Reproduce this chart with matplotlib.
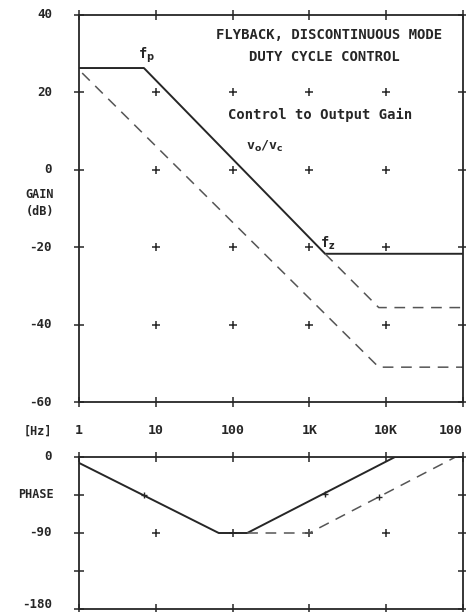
#   Flyback, discontinuous mode - duty cycle control, Bode plot (asymptotes)
import numpy as np
import matplotlib.pyplot as plt

plt.rcParams['font.family'] = ['DejaVu Sans Mono']
plt.rcParams['font.weight'] = 'bold'
ink = '#262626'

# gain asymptotes (Hz, dB)
gain_f = [1, 7, 1600, 100000]
gain_db = [26.3, 26.3, -21.7, -21.7]
# dashed: continuation past fz
gain2_f = [1600, 8000, 100000]
gain2_db = [-21.7, -35.6, -35.6]
# dashed: lower fp
gain3_f = [1.1, 8000, 100000]
gain3_db = [25.0, -51.0, -51.0]

# phase asymptotes (Hz, deg)
phase_f = [1, 66, 155, 13000, 100000]
phase_deg = [-7, -90, -90, 0, 0]
phase2_f = [155, 1000, 80000]
phase2_deg = [-90, -90, 0]
# small marks at the corner frequencies
mark_f = [7, 1600, 8000]
mark_deg = [-45, -44, -47]

dec_f = [1, 10, 100, 1000, 10000, 100000]
dec_lbl = ['1', '10', '100', '1K', '10K', '100']
gain_ticks = [40, 20, 0, -20, -40, -60]
phase_ticks = [0, -45, -90, -135, -180]

fig = plt.figure(figsize=(4.66, 6.12), dpi=100)
W, H = 466.0, 612.0
ax1 = fig.add_axes([79 / W, 1 - 402 / H, 384 / W, 387 / H])
ax2 = fig.add_axes([79 / W, 1 - 609 / H, 384 / W, 152 / H])

for ax in (ax1, ax2):
    ax.set_xscale('log')
    ax.set_xlim(1, 100000)
    ax.minorticks_off()
    for s in ax.spines.values():
        s.set_linewidth(1.3)
        s.set_color(ink)
    ax.tick_params(direction='inout', length=7, width=1.1, color=ink,
                   top=True, right=True, labelbottom=False,
                   labelleft=False)
    ax.set_xticks(dec_f)

# gain panel
ax1.set_ylim(-60, 40)
ax1.set_yticks(gain_ticks)
gx, gy = np.meshgrid(dec_f[1:-1], gain_ticks[1:-1])
ax1.plot(gx.ravel(), gy.ravel(), '+', ms=6, mew=1.1, color=ink)
ax1.plot(gain_f, gain_db, color=ink, lw=1.4)
ax1.plot(gain2_f, gain2_db, color='#555555', lw=1.1, dashes=(7, 5))
ax1.plot(gain3_f, gain3_db, color='#555555', lw=1.1, dashes=(7, 5))
for v in gain_ticks:
    ax1.text(-0.07, (v + 60) / 100, str(v), transform=ax1.transAxes,
             ha='right', va='center', fontsize=9, color=ink)
ax1.text(-0.065, 0.535, 'GAIN', transform=ax1.transAxes, ha='right',
         va='center', fontsize=8.5, color=ink)
ax1.text(-0.065, 0.493, '(dB)', transform=ax1.transAxes, ha='right',
         va='center', fontsize=8.5, color=ink)

ax1.text(0.651, 0.948, 'FLYBACK, DISCONTINUOUS MODE', transform=ax1.transAxes,
         ha='center', va='center', fontsize=10, color=ink)
ax1.text(0.64, 0.891, 'DUTY CYCLE CONTROL', transform=ax1.transAxes,
         ha='center', va='center', fontsize=10, color=ink)
ax1.text(0.628, 0.742, 'Control to Output Gain', transform=ax1.transAxes,
         ha='center', va='center', fontsize=10, color=ink)
ax1.text(0.484, 0.66, r'v$_{\mathbf{o}}$/v$_{\mathbf{c}}$',
         transform=ax1.transAxes, ha='center', va='center',
         fontsize=9.5, color=ink)
ax1.text(5.9, 29.5, r'f$_{\mathbf{p}}$', ha='left', va='center',
         fontsize=10, color=ink)
ax1.text(1380, -19, r'f$_{\mathbf{z}}$', ha='left', va='center',
         fontsize=10, color=ink)

# frequency labels between the panels
for f, lbl in zip(dec_f[:-1], dec_lbl[:-1]):
    ax1.text(f, -67.3, lbl, ha='center', va='center', fontsize=9.5,
             color=ink, clip_on=False)
ax1.text(0.937, -0.0735, dec_lbl[-1], transform=ax1.transAxes, ha='left',
         va='center', fontsize=9.5, color=ink)
ax1.text(-0.07, -0.0755, '[Hz]', transform=ax1.transAxes, ha='right',
         va='center', fontsize=8.5, color=ink)

# phase panel
ax2.set_ylim(-180, 0)
ax2.set_yticks(phase_ticks)
ax2.plot(dec_f[1:-1], [-90] * 4, '+', ms=6, mew=1.1, color=ink)
ax2.plot(phase_f, phase_deg, color=ink, lw=1.4)
ax2.plot(phase2_f, phase2_deg, color='#555555', lw=1.1, dashes=(7, 5))
ax2.plot(mark_f, mark_deg, '+', ms=4, mew=1.0, color=ink)
for v in [0, -90]:
    ax2.text(-0.07, (v + 180) / 180, str(v), transform=ax2.transAxes,
             ha='right', va='center', fontsize=9, color=ink)
ax2.text(-0.07, -0.01, '-180', transform=ax2.transAxes,
         ha='right', va='bottom', fontsize=9, color=ink)
ax2.text(-0.065, 0.75, 'PHASE', transform=ax2.transAxes, ha='right',
         va='center', fontsize=8.5, color=ink)

plt.savefig('out.png', dpi=100)
